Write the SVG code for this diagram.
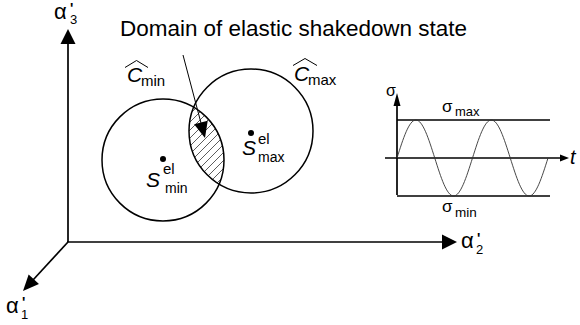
<svg xmlns="http://www.w3.org/2000/svg" width="580" height="325" viewBox="0 0 580 325">
<style>
text{font-family:"Liberation Sans",Arial,sans-serif;fill:#000}
.it{font-style:italic}
.ax{stroke:#000;stroke-width:1.7;fill:none}
.circ{stroke:#000;stroke-width:1.5;fill:none}
.thin{stroke:#000;stroke-width:1;fill:none}
.hd{fill:#000;stroke:none}
.al{font-size:22px}
.pr{font-size:14px;font-weight:bold}
.sb{font-size:13px}
</style>
<defs>
<clipPath id="clipL"><circle cx="163" cy="160" r="61"/></clipPath>
<clipPath id="clipR"><circle cx="251" cy="131" r="62"/></clipPath>
<pattern id="hatch" patternUnits="userSpaceOnUse" width="8" height="8">
<path d="M0,8 L8,0 M-2,2 L2,-2 M6,10 L10,6" stroke="#333" stroke-width="0.8"/>
</pattern>
</defs>

<g id="axes">
<line class="ax" x1="68" y1="242" x2="68" y2="42"/>
<line class="ax" x1="67" y1="242" x2="444" y2="242"/>
<line class="ax" x1="68" y1="242" x2="33" y2="280"/>
</g>

<g id="lens">
<g clip-path="url(#clipL)">
<rect x="180" y="100" width="50" height="90" fill="url(#hatch)" clip-path="url(#clipR)"/>
</g>
</g>

<g id="cmin">
<circle class="circ" cx="163" cy="160" r="61"/>
<circle cx="163" cy="159" r="3" fill="#000"/>
<path class="thin" d="M125,67.5 L136.5,60.5 L148,67.5" stroke-width="1.1"/>
<text class="it" x="127" y="82" font-size="21">C</text>
<text x="141" y="86" font-size="15">min</text>
<text class="it" x="146" y="187" font-size="21">S</text>
<text x="163" y="174" font-size="15">el</text>
<text x="165" y="193" font-size="14">min</text>
</g>

<g id="cmax">
<circle class="circ" cx="251" cy="131" r="62"/>
<circle cx="251" cy="133" r="3" fill="#000"/>
<path class="thin" d="M293,65.5 L305,58.5 L317,65.5" stroke-width="1.1"/>
<text class="it" x="294" y="81" font-size="21">C</text>
<text x="308" y="85" font-size="15">max</text>
<text class="it" x="242" y="155" font-size="21">S</text>
<text x="258" y="144" font-size="15">el</text>
<text x="258" y="162" font-size="14">max</text>
</g>

<g id="title">
<text x="120" y="36" font-size="21.5" textLength="347" lengthAdjust="spacingAndGlyphs">Domain of elastic shakedown state</text>
</g>

<g id="axis-labels">
<text x="54" y="19"><tspan class="al">α</tspan><tspan class="pr" x="70" y="13">'</tspan><tspan class="sb" x="70" y="24">3</tspan></text>
<text x="461" y="248"><tspan class="al">α</tspan><tspan class="pr" x="477" y="243">'</tspan><tspan class="sb" x="476" y="254">2</tspan></text>
<text x="6" y="313"><tspan class="al">α</tspan><tspan class="pr" x="22" y="307">'</tspan><tspan class="sb" x="21" y="319">1</tspan></text>
</g>

<g id="signal">
<line class="ax" stroke-width="1.5" x1="397" y1="195" x2="397" y2="104"/>
<line class="ax" stroke-width="1.5" x1="385" y1="158" x2="561" y2="158"/>
<line class="ax" stroke-width="1.5" x1="397" y1="120" x2="550" y2="120"/>
<line class="ax" stroke-width="1.5" x1="397" y1="196" x2="550" y2="196"/>
<polygon class="hd" points="397,93 393.5,106 400.5,106"/>
<polygon class="hd" points="569,158 560,154.5 560,161.5"/>
<path stroke="#333" stroke-width="0.9" fill="none" d="M397,158 C403.16,138.53 409.04,120 415.875,120 C422.71,120 428.59,138.53 434.75,158 C440.91,177.47 446.79,196 453.625,196 C460.46,196 466.34,177.47 472.5,158 C478.66,138.53 484.54,120 491.375,120 C498.21,120 504.09,138.53 510.25,158 C516.41,177.47 522.29,196 529.125,196 C535.96,196 541.84,177.47 548,158"/>
<text x="386" y="96" font-size="16">σ</text>
<text x="442" y="112" font-size="17">σ</text>
<text x="455" y="116" font-size="13">max</text>
<text x="442" y="212" font-size="17">σ</text>
<text x="455" y="217" font-size="13.5">min</text>
<text class="it" x="570" y="164" font-size="20">t</text>
</g>

<g id="connectors">
<polygon class="hd" points="68,29 60.5,44 75.5,44"/>
<polygon class="hd" points="457,242 442,234.5 442,249.5"/>
<polygon class="hd" points="23,291 38.96,283.94 28.64,274.46"/>
<line class="thin" stroke-width="1.3" x1="183" y1="55" x2="201" y2="123"/>
<polygon class="hd" points="205,138 207.7,120.7 194.1,124.3"/>
</g>
</svg>
